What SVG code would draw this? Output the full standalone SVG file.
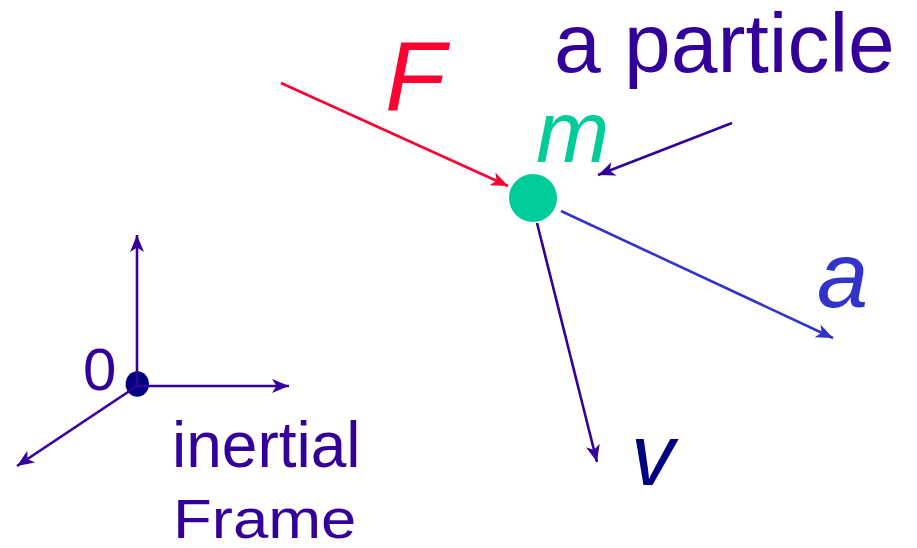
<svg xmlns="http://www.w3.org/2000/svg" width="917" height="548" viewBox="0 0 917 548">
  <style>
    text { font-family: "Liberation Sans", Arial, sans-serif; }
    .it { font-style: italic; }
    .purple { fill: #330099; }
    .ln { fill: none; stroke-width: 2.6; stroke-linecap: butt; }
  </style>
  <defs>
    <marker id="arP" markerUnits="userSpaceOnUse" markerWidth="18" markerHeight="14" refX="17" refY="7" orient="auto" overflow="visible">
      <path d="M0,0 L17,7 L0,14 L4.5,7 Z" fill="#330099"/>
    </marker>
    <marker id="arR" markerUnits="userSpaceOnUse" markerWidth="18" markerHeight="14" refX="17" refY="7" orient="auto" overflow="visible">
      <path d="M0,0 L17,7 L0,14 L4.5,7 Z" fill="#ff0033"/>
    </marker>
    <marker id="arB" markerUnits="userSpaceOnUse" markerWidth="18" markerHeight="14" refX="17" refY="7" orient="auto" overflow="visible">
      <path d="M0,0 L17,7 L0,14 L4.5,7 Z" fill="#3333cc"/>
    </marker>
  </defs>

  <g id="origin">
    <ellipse cx="137.3" cy="384" rx="11.7" ry="12.8" fill="#000080"/>
    <text x="83" y="390" font-size="60" class="purple">0</text>
  </g>

  <g id="particle">
    <circle cx="533" cy="198" r="24" fill="#00cc99"/>
    <text x="536" y="162" font-size="88" class="it" fill="#00cc99">m</text>
  </g>

  <g id="label-particle">
    <text x="554" y="72" font-size="84" class="purple">a particle</text>
  </g>

  <g id="label-frame">
    <text x="172" y="467" font-size="64" class="purple">inertial</text>
    <text transform="translate(173,538) scale(1,0.88)" x="0" y="0" font-size="63.5" class="purple">Frame</text>
  </g>

  <g id="label-F">
    <text x="385" y="110" font-size="99" class="it" fill="#ff0033">F</text>
  </g>
  <g id="label-a">
    <text x="817" y="307" font-size="92" class="it" fill="#3333cc">a</text>
  </g>
  <g id="label-v">
    <text x="631" y="485" font-size="87" class="it" fill="#000080">v</text>
  </g>

  <g id="connectors">
    <line class="ln" x1="137" y1="386" x2="137" y2="235" stroke="#330099" marker-end="url(#arP)"/>
    <line class="ln" x1="137" y1="386" x2="289" y2="386" stroke="#330099" marker-end="url(#arP)"/>
    <line class="ln" x1="137" y1="386" x2="17" y2="466" stroke="#330099" marker-end="url(#arP)"/>
    <line class="ln" x1="281" y1="83" x2="508" y2="186" stroke="#ff0033" marker-end="url(#arR)"/>
    <line class="ln" x1="732" y1="123" x2="598" y2="175" stroke="#330099" marker-end="url(#arP)"/>
    <line class="ln" x1="561" y1="211" x2="833" y2="338" stroke="#3333cc" marker-end="url(#arB)"/>
    <line class="ln" x1="537" y1="223" x2="597" y2="462" stroke="#330099" marker-end="url(#arP)"/>
  </g>
</svg>
